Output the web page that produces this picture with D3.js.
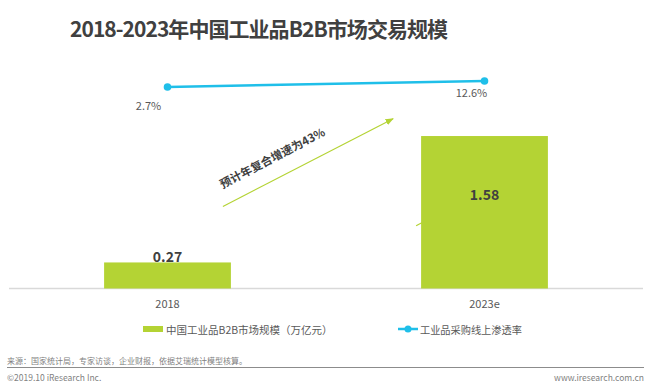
<!DOCTYPE html>
<html>
<head>
<meta charset="utf-8">
<script src="https://cdn.jsdelivr.net/npm/d3@7"></script>
<style>
  body { margin: 0; background: #fff; }
  svg { display: block; font-family: "Noto Sans CJK SC", "Noto Sans", sans-serif; }
</style>
</head>
<body>
<svg width="653" height="388"></svg>
<script>
// datos del grafico
const categorias = ["2018", "2023e"];
const mercado = [0.27, 1.58];          // 万亿元
const penetracion = [2.7, 12.6];       // %
const etiquetasPenetracion = ["2.7%", "12.6%"];
const titulo = "2018-2023年中国工业品B2B市场交易规模";
const nombresSeries = ["中国工业品B2B市场规模（万亿元）", "工业品采购线上渗透率"];
const nota = "预计年复合增速为43%";
const fuente = "来源：国家统计局，专家访谈，企业财报，依据艾瑞统计模型核算。";

const verde = "#b4d334";
const azul = "#1fbfe9";

const svg = d3.select("svg");

// escalas
const x = d3.scaleBand()
  .domain(categorias)
  .range([9, 643])
  .paddingInner(0.6)
  .paddingOuter(0.3);

const y = d3.scaleLinear().domain([0, 2]).range([288.5, 95.5]);
const yTasa = d3.scaleLinear().domain([0, 100]).range([88.6, 28]); // eje secundario (oculto)

// titulo
svg.append("text")
  .attr("x", 70)
  .attr("y", 28)
  .attr("dominant-baseline", "central")
  .attr("font-size", 21)
  .attr("font-weight", "bold")
  .attr("letter-spacing", -0.95)
  .attr("fill", "#404040")
  .text(titulo);

// flecha de crecimiento (detras de las barras)
svg.append("defs")
  .append("marker")
  .attr("id", "flecha")
  .attr("viewBox", "0 0 10 10")
  .attr("refX", 9)
  .attr("refY", 5)
  .attr("markerWidth", 7)
  .attr("markerHeight", 7)
  .attr("orient", "auto")
  .append("path")
  .attr("d", "M 0 1 L 10 5 L 0 9 z")
  .attr("fill", verde);

const x0 = x("2018") + x.bandwidth();
const x1 = x("2023e");
svg.append("line")
  .attr("x1", x0 - 8).attr("y1", y(0.85))
  .attr("x2", x1 - 28).attr("y2", y(1.76))
  .attr("stroke", verde)
  .attr("stroke-width", 1.2)
  .attr("marker-end", "url(#flecha)");

svg.append("line")
  .attr("x1", x1 - 5).attr("y1", y(0.65))
  .attr("x2", x1 + 6).attr("y2", y(0.71))
  .attr("stroke", verde)
  .attr("stroke-width", 1.2);

svg.append("text")
  .attr("transform", `translate(${(x0 + x1) / 2 - 54},${y(1.36)}) rotate(-27.5)`)
  .attr("text-anchor", "middle")
  .attr("dominant-baseline", "central")
  .attr("font-size", 11.5)
  .attr("font-weight", "bold")
  .attr("fill", "#404040")
  .text(nota);

// eje x
svg.append("line")
  .attr("x1", x.range()[0]).attr("x2", x.range()[1])
  .attr("y1", y(0)).attr("y2", y(0))
  .attr("stroke", "#d9d9d9")
  .attr("stroke-width", 1.5);

// barras
const barras = svg.selectAll(".barra")
  .data(categorias)
  .enter()
  .append("rect")
  .attr("class", "barra")
  .attr("x", d => x(d))
  .attr("width", x.bandwidth())
  .attr("y", (d, i) => y(mercado[i]))
  .attr("height", (d, i) => y(0) - y(mercado[i]))
  .attr("fill", verde);

// valores de barras: el pequeno encima, el grande dentro
svg.selectAll(".valor")
  .data(categorias)
  .enter()
  .append("text")
  .attr("class", "valor")
  .attr("x", d => x(d) + x.bandwidth() / 2)
  .attr("y", (d, i) => i === 0 ? y(mercado[i]) - 6 : y(mercado[i] * 0.62))
  .attr("text-anchor", "middle")
  .attr("dominant-baseline", "central")
  .attr("font-size", 14)
  .attr("font-weight", "bold")
  .attr("fill", "#404040")
  .text((d, i) => mercado[i].toFixed(2));

// etiquetas del eje x
svg.selectAll(".cat")
  .data(categorias)
  .enter()
  .append("text")
  .attr("class", "cat")
  .attr("x", d => x(d) + x.bandwidth() / 2)
  .attr("y", y(0) + 14)
  .attr("text-anchor", "middle")
  .attr("dominant-baseline", "central")
  .attr("font-size", 11)
  .attr("fill", "#595959")
  .text(d => d);

// linea de penetracion
const linea = d3.line()
  .x((d, i) => x(categorias[i]) + x.bandwidth() / 2)
  .y(d => yTasa(d));

svg.append("path")
  .attr("d", linea(penetracion))
  .attr("fill", "none")
  .attr("stroke", azul)
  .attr("stroke-width", 2.5);

svg.selectAll(".punto")
  .data(penetracion)
  .enter()
  .append("circle")
  .attr("class", "punto")
  .attr("cx", (d, i) => x(categorias[i]) + x.bandwidth() / 2)
  .attr("cy", d => yTasa(d))
  .attr("r", 3.8)
  .attr("fill", azul);

const desplaz = [[-19, 18], [-13, 11]];
svg.selectAll(".tasa")
  .data(penetracion)
  .enter()
  .append("text")
  .attr("class", "tasa")
  .attr("x", (d, i) => x(categorias[i]) + x.bandwidth() / 2 + desplaz[i][0])
  .attr("y", (d, i) => yTasa(d) + desplaz[i][1])
  .attr("text-anchor", "middle")
  .attr("dominant-baseline", "central")
  .attr("font-size", 11)
  .attr("fill", "#595959")
  .text((d, i) => etiquetasPenetracion[i]);

// leyenda
const ly = 329;
svg.append("rect")
  .attr("x", 143).attr("y", ly - 3)
  .attr("width", 20).attr("height", 6)
  .attr("fill", verde);
svg.append("text")
  .attr("x", 166).attr("y", ly)
  .attr("dominant-baseline", "central")
  .attr("font-size", 10.5)
  .attr("fill", "#595959")
  .text(nombresSeries[0]);

svg.append("line")
  .attr("x1", 398).attr("x2", 418)
  .attr("y1", ly).attr("y2", ly)
  .attr("stroke", azul).attr("stroke-width", 2.5);
svg.append("circle")
  .attr("cx", 408).attr("cy", ly).attr("r", 3.5)
  .attr("fill", azul);
svg.append("text")
  .attr("x", 420).attr("y", ly)
  .attr("dominant-baseline", "central")
  .attr("font-size", 10.2)
  .attr("fill", "#595959")
  .text(nombresSeries[1]);

// pie
svg.append("text")
  .attr("x", 7).attr("y", 360)
  .attr("dominant-baseline", "central")
  .attr("font-size", 8)
  .attr("fill", "#7f7f7f")
  .text(fuente);

svg.append("line")
  .attr("x1", 7).attr("x2", 644)
  .attr("y1", 367.5).attr("y2", 367.5)
  .attr("stroke", "#8c8c8c")
  .attr("stroke-width", 1);

svg.append("text")
  .attr("x", 7).attr("y", 377)
  .attr("dominant-baseline", "central")
  .attr("font-size", 8.5)
  .attr("fill", "#7f7f7f")
  .text("©2019.10 iResearch Inc.");

svg.append("text")
  .attr("x", 644).attr("y", 377)
  .attr("text-anchor", "end")
  .attr("dominant-baseline", "central")
  .attr("font-size", 8.5)
  .attr("fill", "#7f7f7f")
  .text("www.iresearch.com.cn");
</script>
</body>
</html>
